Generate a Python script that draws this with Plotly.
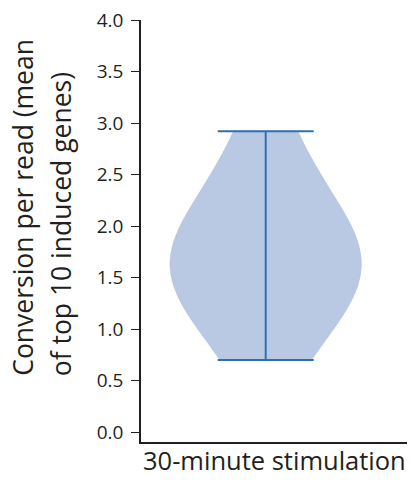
import plotly.graph_objects as go

# Per-read conversion (mean of the top 10 induced genes), 30-minute stimulation
conversion = [0.70, 1.10, 1.35, 1.50, 1.60, 1.70, 1.85, 2.05, 2.40, 2.92]
group_label = "30-minute stimulation"
y_ticks = [0.0, 0.5, 1.0, 1.5, 2.0, 2.5, 3.0, 3.5, 4.0]
y_title_lines = ["Conversion per read (mean", "of top 10 induced genes)"]

FONT = "Open Sans"
INK = "#231f20"
FILL = "#b9c9e3"
STROKE = "#2b70b6"

fig = go.Figure()

# Kernel density body, clipped to the data range
fig.add_trace(go.Violin(
    y=conversion,
    x0=0,
    spanmode="hard",
    bandwidth=0.56,
    scalemode="width",
    width=1.92,
    fillcolor=FILL,
    line=dict(width=0, color=FILL),
    points=False,
    box_visible=False,
    meanline_visible=False,
    hoverinfo="skip",
    showlegend=False,
))

# Extrema bar with caps
vmin, vmax = min(conversion), max(conversion)
cap = 0.48
fig.add_trace(go.Scatter(
    x=[-cap, cap, None, 0, 0, None, -cap, cap],
    y=[vmax, vmax, None, vmin, vmax, None, vmin, vmin],
    mode="lines",
    line=dict(color=STROKE, width=2),
    hoverinfo="skip",
    showlegend=False,
))

annotations = [
    dict(text=group_label, xref="paper", yref="paper", x=0.5, y=-38 / 424,
         xanchor="center", yanchor="bottom", yshift=1, showarrow=False,
         font=dict(family=FONT, size=25.5, color=INK)),
]
for line, xs in zip(y_title_lines, [23, 61]):
    annotations.append(dict(
        text=line, textangle=-90, xref="paper", yref="paper",
        x=0, y=(442 - 378) / 424, xanchor="center", yanchor="bottom",
        xshift=xs - 141, showarrow=False,
        font=dict(family=FONT, size=26.5, color=INK)))

fig.update_layout(
    width=414, height=480,
    margin=dict(l=141, r=7, t=18, b=38),
    paper_bgcolor="white", plot_bgcolor="white",
    showlegend=False,
    annotations=annotations,
    xaxis=dict(range=[-1.247, 1.413], showline=True, linecolor=INK,
               linewidth=1.5, showgrid=False, zeroline=False,
               showticklabels=False, ticks="", fixedrange=True),
    yaxis=dict(range=[-0.097, 4.0], tickvals=y_ticks, tickformat=".1f",
               showline=True, linecolor=INK, linewidth=1.5,
               ticks="outside", ticklen=8, tickwidth=1.3, tickcolor=INK,
               ticklabelstandoff=4,
               showgrid=False, zeroline=False, fixedrange=True,
               tickfont=dict(family=FONT, size=19, color=INK)),
)

fig.write_html("out.html")
